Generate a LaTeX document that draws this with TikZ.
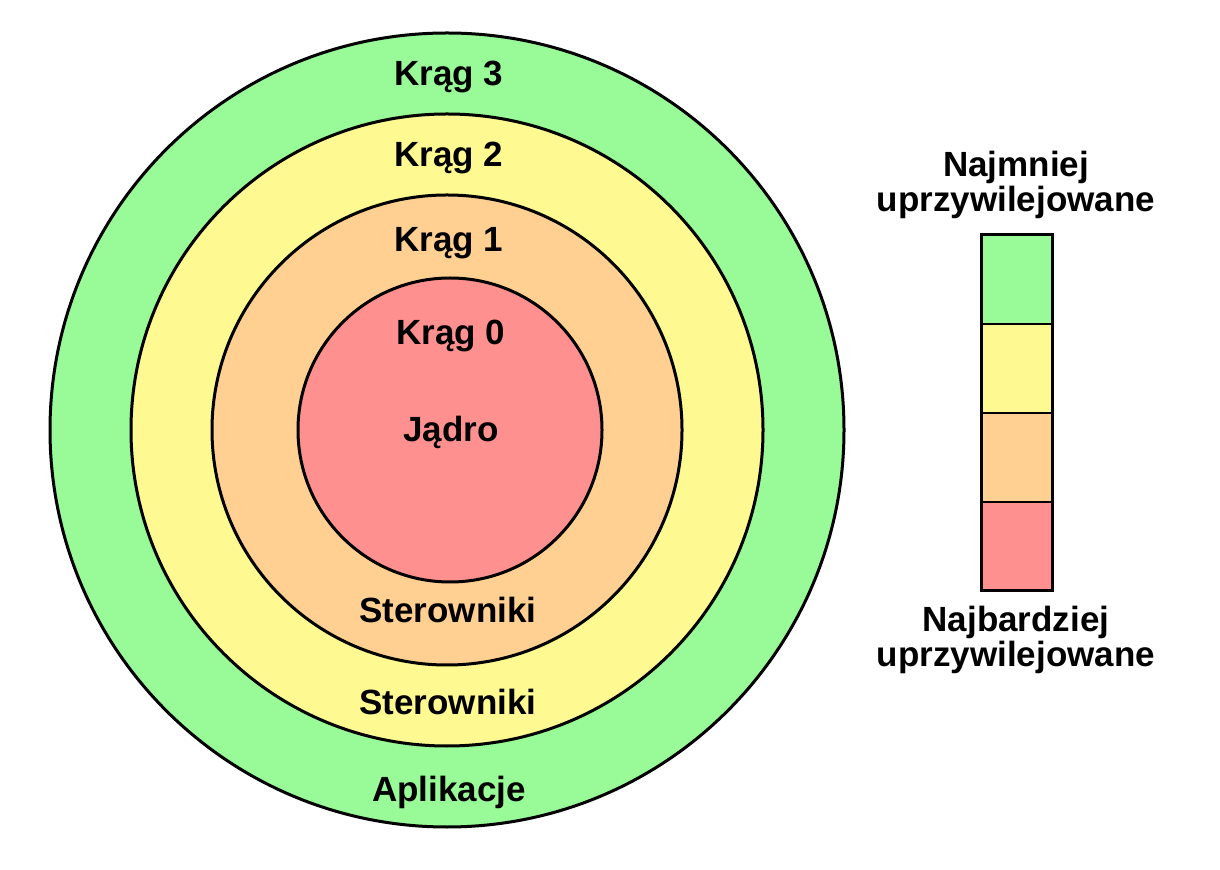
\documentclass[tikz,border=0pt]{standalone}
\usepackage{fontspec}
\setmainfont{Liberation Sans}
\usetikzlibrary{positioning}

\definecolor{ringgreen}{RGB}{152,251,152}
\definecolor{ringyellow}{RGB}{255,249,145}
\definecolor{ringorange}{RGB}{255,208,145}
\definecolor{ringred}{RGB}{255,144,144}

\begin{document}
\begin{tikzpicture}[x=0.5pt, y=-0.5pt,
                    ring/.style={circle, draw, line width=1.5pt, inner sep=0pt, outer sep=0pt},
                    ringlabel/.style={anchor=base, inner sep=0pt, font=\fontsize{17.5}{21}\selectfont\bfseries},
                    barcell/.style={rectangle, draw, line width=1pt, inner sep=0pt, outer sep=0pt, minimum width=35.5pt, minimum height=44.5pt},
                   ]
  \useasboundingbox (0,0) rectangle (1220,870);

  %Rings
  \node[ring, fill=ringgreen,  minimum size=397pt] (ring3) at (447,430) {};
  \node[ring, fill=ringyellow, minimum size=316pt] (ring2) at (447,430) {};
  \node[ring, fill=ringorange, minimum size=235pt] (ring1) at (447,430) {};
  \node[ring, fill=ringred,    minimum size=152pt] (ring0) at (450,430) {};

  %Ring labels
  \node[ringlabel] (krag3) at (449,86)  {Krąg 3};
  \node[ringlabel] (krag2) at (449,167) {Krąg 2};
  \node[ringlabel] (krag1) at (449,252) {Krąg 1};
  \node[ringlabel] (krag0) at (451,345) {Krąg 0};
  \node[ringlabel] (jadro) at (451,442) {Jądro};
  \node[ringlabel] (ster1) at (448,623) {Sterowniki};
  \node[ringlabel] (ster2) at (448,714) {Sterowniki};
  \node[ringlabel] (apps)  at (449,801) {Aplikacje};

  %Privilege bar
  \node[barcell, fill=ringgreen]  (cell3) at (1016.5,279.5) {};
  \node[barcell, fill=ringyellow] (cell2) [below=0pt of cell3] {};
  \node[barcell, fill=ringorange] (cell1) [below=0pt of cell2] {};
  \node[barcell, fill=ringred]    (cell0) [below=0pt of cell1] {};
  \draw[line width=1.5pt] (cell3.north west) rectangle (cell0.south east);

  %Bar labels
  \node[ringlabel] (least1) at (1016,177) {Najmniej};
  \node[ringlabel] (least2) at (1016,212) {uprzywilejowane};
  \node[ringlabel] (most1)  at (1016,632) {Najbardziej};
  \node[ringlabel] (most2)  at (1016,667) {uprzywilejowane};
\end{tikzpicture}
\end{document}
